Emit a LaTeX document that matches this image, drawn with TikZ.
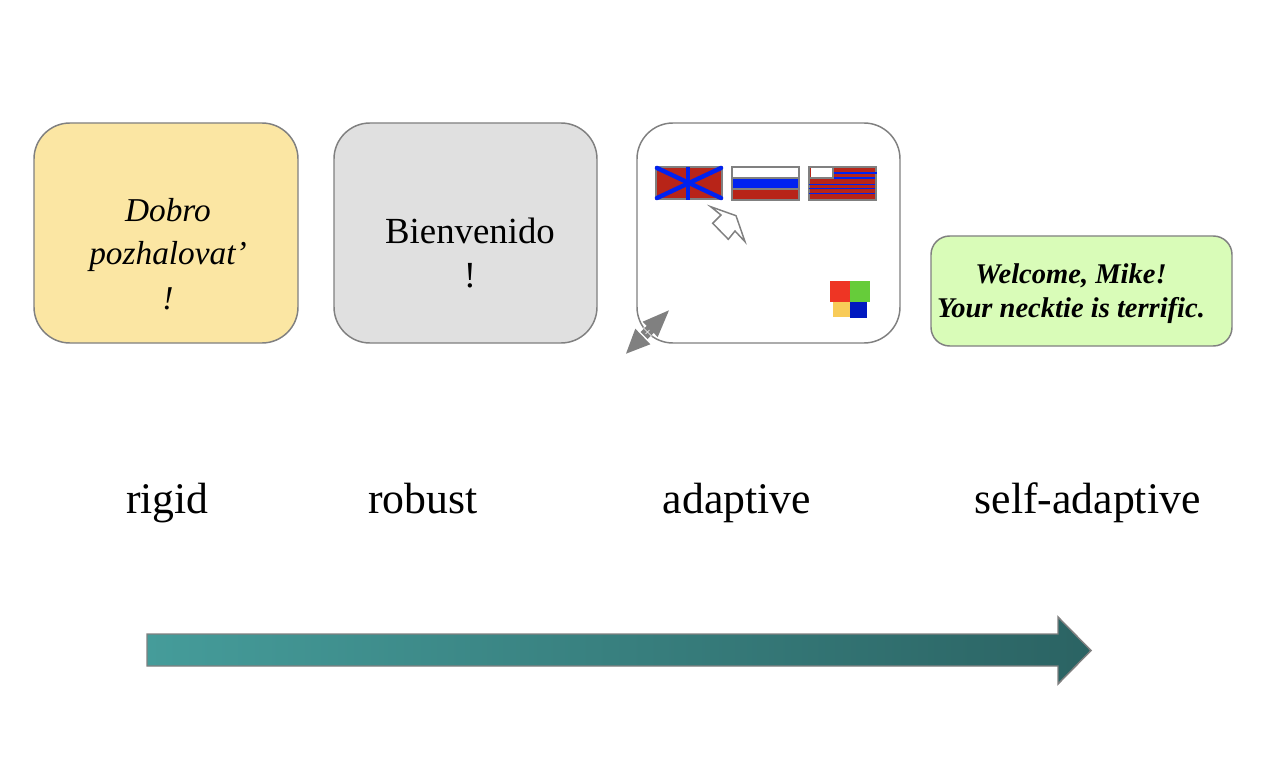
\documentclass[tikz,border=0pt]{standalone}
\usepackage{fontspec}
\setmainfont{Liberation Serif}
\definecolor{edgegrey}{HTML}{808080}
\definecolor{flagred}{HTML}{B82418}
\definecolor{flagblue}{HTML}{0022F0}
\definecolor{logored}{HTML}{EE3524}
\definecolor{logogreen}{HTML}{66CC3A}
\definecolor{logoyellow}{HTML}{F8CB58}
\definecolor{logoblue}{HTML}{0019C0}
\tikzset{
  x=0.75pt,y=-0.75pt,
  card/.style={draw=edgegrey,line width=1.1pt,rounded corners=27pt},
  slim/.style={draw=edgegrey,line width=1.1pt,rounded corners=14pt},
  caption/.style={inner sep=0pt,anchor=base,font=\fontsize{32.8}{38}\selectfont},
  flagedge/.style={draw=edgegrey,line width=1.5pt},
  cross/.style={draw=flagblue,line width=3.3pt,line cap=round},
  stripe/.style={draw=flagblue,line width=1.3pt},
}
\begin{document}
\begin{tikzpicture}
\useasboundingbox (0,0) rectangle (1286,770);
\fill[white] (0,0) rectangle (1286,770);
% cards
\draw[card,fill={rgb,255:red,251;green,230;blue,163}] (34,123) rectangle (298,343);
\draw[card,fill={rgb,255:red,224;green,224;blue,224}] (334,123) rectangle (597,343);
\draw[card,fill=white] (637,123) rectangle (900,343);
\draw[slim,fill={rgb,255:red,217;green,252;blue,184}] (931,236) rectangle (1232,346);
% card texts
\node[inner sep=0pt,align=center,anchor=base,font=\fontsize{25}{33}\selectfont\itshape] (dobro) at (168,309)
  {Dobro\\pozhalovat’\\!};
\node[inner sep=0pt,align=center,anchor=base,font=\fontsize{27.6}{33}\selectfont] (bien) at (470,287)
  {Bienvenido\\!};
\node[inner sep=0pt,align=center,anchor=base,font=\fontsize{21.4}{24.8}\selectfont\bfseries\itshape] (welcome) at (1071,317)
  {Welcome, Mike!\\Your necktie is terrific.};
% flag 1
\draw[flagedge,fill=flagred] (656,167) rectangle (722,199);
\draw[cross] (657,168) -- (721,198);
\draw[cross] (657,198) -- (721,168);
\draw[cross,line cap=butt] (688,167) -- (688,200);
% flag 2
\fill[white] (732,167) rectangle (799,178);
\fill[flagblue] (732,178) rectangle (799,189);
\fill[flagred] (732,189) rectangle (799,200);
\draw[flagedge] (732,167) rectangle (799,200);
\draw[flagedge] (732,178) -- (799,178) (732,189) -- (799,189);
% flag 3
\draw[flagedge,fill=flagred] (809,167) rectangle (876,200);
\draw[stripe] (833,173) -- (877,173);
\draw[stripe] (832,178) -- (875,178);
\draw[stripe] (809,184.5) -- (875,184.5);
\draw[stripe] (809,188.5) -- (875,188.5);
\draw[stripe] (809,193.5) -- (875,193.5);
\fill[white] (811,168) rectangle (832.5,177);
\draw[edgegrey,line width=1.3pt] (833,167) -- (833,178) -- (810,178);
% cursor
\draw[edgegrey,fill=white,line width=1.1pt,line join=miter]
  (710.7,206.7) -- (736,215.7) -- (745,241.7) -- (735,231) -- (728.3,239.3) -- (712.7,223.3) -- (721,215) -- cycle;
% logo
\fill[logored] (830,281.5) rectangle (850,301.5);
\fill[logogreen] (850,281.5) rectangle (870,301.5);
\fill[logoyellow] (833.3,301.5) rectangle (850,317);
\fill[logoblue] (850,301.5) rectangle (867,317.5);
% resize handle
\fill[edgegrey] (669,310.3) -- (642.7,321.7) -- (657.7,337) -- cycle;
\fill[edgegrey] (626,353.7) -- (635.3,328.7) -- (650.3,344.3) -- cycle;
\fill[edgegrey] (647.5,325) -- (654.5,332) -- (647.5,339) -- (640.5,332) -- cycle;
\draw[white,line width=0.5pt] (643,327.5) -- (652,336.5);
\draw[white,line width=0.5pt] (645.5,334) -- (649.5,330);
% captions
\node[caption] (rigid) at (167.5,513) {rigid};
\node[caption] (robust) at (423,513) {robust};
\node[caption] (adaptive) at (737,513) {adaptive};
\node[caption] (selfadaptive) at (1087.5,513) {self-adaptive};
% big arrow
\path[left color={rgb,255:red,69;green,156;blue,154},right color={rgb,255:red,43;green,99;blue,99},draw=edgegrey,line width=1.1pt]
  (147,634) -- (1058,634) -- (1058,617) -- (1091,650.5) -- (1058,684) -- (1058,666) -- (147,666) -- cycle;
\end{tikzpicture}
\end{document}
